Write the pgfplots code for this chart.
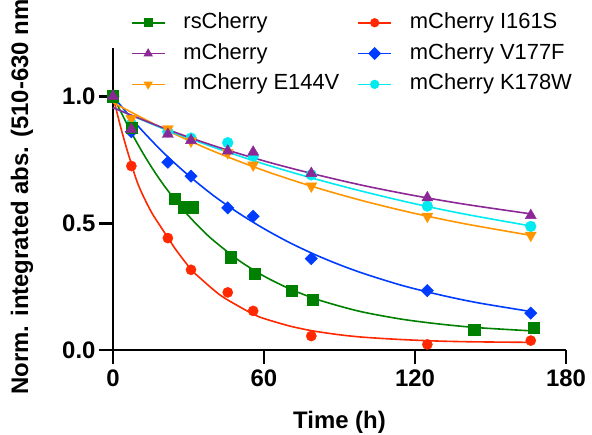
\documentclass[border=0pt]{standalone}
\usepackage{fontspec}
\setmainfont{Liberation Sans}
\usepackage{pgfplots}
\pgfplotsset{compat=1.18}
\definecolor{cgreen}{RGB}{0,128,0}
\definecolor{cpurple}{RGB}{140,40,150}
\definecolor{corange}{RGB}{255,150,0}
\definecolor{cred}{RGB}{255,40,0}
\definecolor{cblue}{RGB}{0,60,255}
\definecolor{ccyan}{RGB}{0,235,240}
\pgfplotsset{
  srs/.style={color=cgreen, mark=square*, mark size=5.6bp},
  sred/.style={color=cred, mark=*, mark size=5.1bp},
  spur/.style={color=cpurple, mark=triangle*, mark size=6.4bp},
  sblue/.style={color=cblue, mark=square*, mark size=4.4bp, mark options={rotate=45}},
  sorg/.style={color=corange, mark=triangle*, mark size=6.4bp, mark options={rotate=180}},
  scyan/.style={color=ccyan, mark=*, mark size=5.4bp},
  fit/.style={line width=1.6bp, smooth, no marks, forget plot},
}
\begin{document}
\begin{tikzpicture}
\begin{axis}[
  at={(0bp,0bp)}, anchor=south west,
  scale only axis, width=453bp, height=302bp,
  xmin=0, xmax=180, ymin=0, ymax=1.19,
  axis lines=left, axis line style={-, line width=2.8bp},
  xtick={0,60,120,180}, xticklabels={0,60,120,180},
  ytick={0,0.5,1}, yticklabels={0.0,0.5,1.0},
  tick align=outside, major tick length=14bp,
  tick style={line width=2.8bp, black},
  minor tick num=0,
  ticklabel style={font=\bfseries\fontsize{24}{28}\selectfont},
  xticklabel style={yshift=-2bp},
  xlabel={Time (h)},
  xlabel style={at={(axis description cs:0.5,-0.26)}, anchor=base, font=\bfseries\fontsize{24}{28}\selectfont},
  ylabel={Norm. integrated abs. (510-630 nm)},
  ylabel style={at={(axis description cs:-0.1876,0.52)}, anchor=base, font=\bfseries\fontsize{24}{28}\selectfont},
  legend columns=2,
  legend cell align=left,
  legend style={draw=none, fill=none, at={(axis description cs:0.039,1.119)}, anchor=north west,
    inner sep=0pt, row sep=9.8bp, font=\fontsize{22}{26}\selectfont,
    nodes={inner sep=0pt, text height=16bp, text depth=5bp},
    /tikz/every odd column/.append style={column sep=18bp},
    /tikz/every even column/.append style={column sep=18bp}},
  legend image code/.code={\draw[sharp plot, line width=1.6bp, mark repeat=2, mark phase=2, mark size=3.8bp] plot coordinates {(0bp,0bp) (16.5bp,0bp) (33bp,0bp)};},
  clip=false,
]
\addlegendimage{srs}\addlegendentry{rsCherry}
\addlegendimage{sred}\addlegendentry{mCherry I161S}
\addlegendimage{spur}\addlegendentry{mCherry}
\addlegendimage{sblue, mark size=3bp}\addlegendentry{mCherry V177F}
\addlegendimage{sorg}\addlegendentry{mCherry E144V}
\addlegendimage{scyan}\addlegendentry{mCherry K178W}

% fitted curves
\addplot[cgreen, fit] coordinates {(0,1.0) (4,0.921) (8,0.844) (12,0.774) (16,0.710) (20,0.652) (25,0.587) (30,0.529) (35,0.477) (40,0.431) (50,0.353) (60,0.291) (70,0.242) (80,0.203) (90,0.173) (100,0.148) (115,0.121) (130,0.102) (145,0.088) (167,0.075)};
\addplot[cred, fit] coordinates {(0,1.0) (3,0.88) (6,0.775) (10,0.652) (15,0.548) (20,0.47) (25,0.395) (31,0.318) (35,0.28) (42.5,0.217) (50,0.172) (56,0.14) (60,0.124) (70,0.095) (79,0.076) (90,0.06) (100,0.05) (115,0.041) (130,0.035) (145,0.032) (167,0.030)};
\addplot[cblue, fit] coordinates {(0,1.0) (10,0.882) (20,0.778) (30,0.688) (40,0.608) (50,0.539) (60,0.478) (70,0.424) (80,0.377) (90,0.336) (100,0.300) (115,0.254) (130,0.217) (145,0.186) (167,0.150)};
\addplot[corange, fit] coordinates {(0,0.975) (20,0.872) (40,0.783) (60,0.707) (80,0.642) (100,0.586) (120,0.538) (140,0.497) (167,0.450)};
\addplot[ccyan, fit] coordinates {(0,0.955) (20,0.872) (40,0.799) (60,0.733) (80,0.675) (100,0.623) (120,0.576) (140,0.535) (167,0.487)};
\addplot[cpurple, fit] coordinates {(0,0.955) (20,0.875) (40,0.805) (60,0.745) (80,0.693) (100,0.647) (120,0.608) (140,0.574) (167,0.535)};

% data
\addplot[scyan, only marks, forget plot] coordinates {(0,1.0) (7.3,0.89) (21.8,0.86) (31,0.835) (45.6,0.817) (55.7,0.764) (78.8,0.69) (124.9,0.567) (166,0.487)};
\addplot[sorg, only marks, forget plot] coordinates {(0,1.0) (7.3,0.912) (21.8,0.872) (31,0.823) (45.6,0.777) (55.7,0.729) (78.8,0.646) (124.9,0.527) (166,0.452)};
\addplot[sblue, only marks, forget plot] coordinates {(0,1.0) (7.3,0.86) (21.8,0.74) (31,0.685) (45.6,0.56) (55.7,0.527) (78.8,0.36) (124.9,0.234) (166,0.145)};
\addplot[sred, only marks, forget plot] coordinates {(0,1.0) (7.3,0.725) (21.8,0.441) (31,0.316) (45.6,0.227) (55.7,0.154) (78.8,0.055) (124.9,0.022) (166,0.037)};
\addplot[srs, only marks, forget plot] coordinates {(0,1.0) (7.3,0.876) (24.5,0.595) (28.2,0.563) (31.7,0.563) (46.8,0.366) (56.3,0.300) (70.9,0.234) (79.5,0.198) (143.5,0.079) (167.3,0.088)};
\addplot[spur, only marks, forget plot] coordinates {(0,1.0) (7.3,0.87) (21.8,0.85) (31,0.826) (45.6,0.784) (55.7,0.78) (78.8,0.696) (124.9,0.60) (166,0.53)};
\end{axis}
\pgfresetboundingbox
\path[use as bounding box] (current axis.south west) ++(-113bp,-85bp) rectangle ++(592bp,435bp);
\end{tikzpicture}
\end{document}
